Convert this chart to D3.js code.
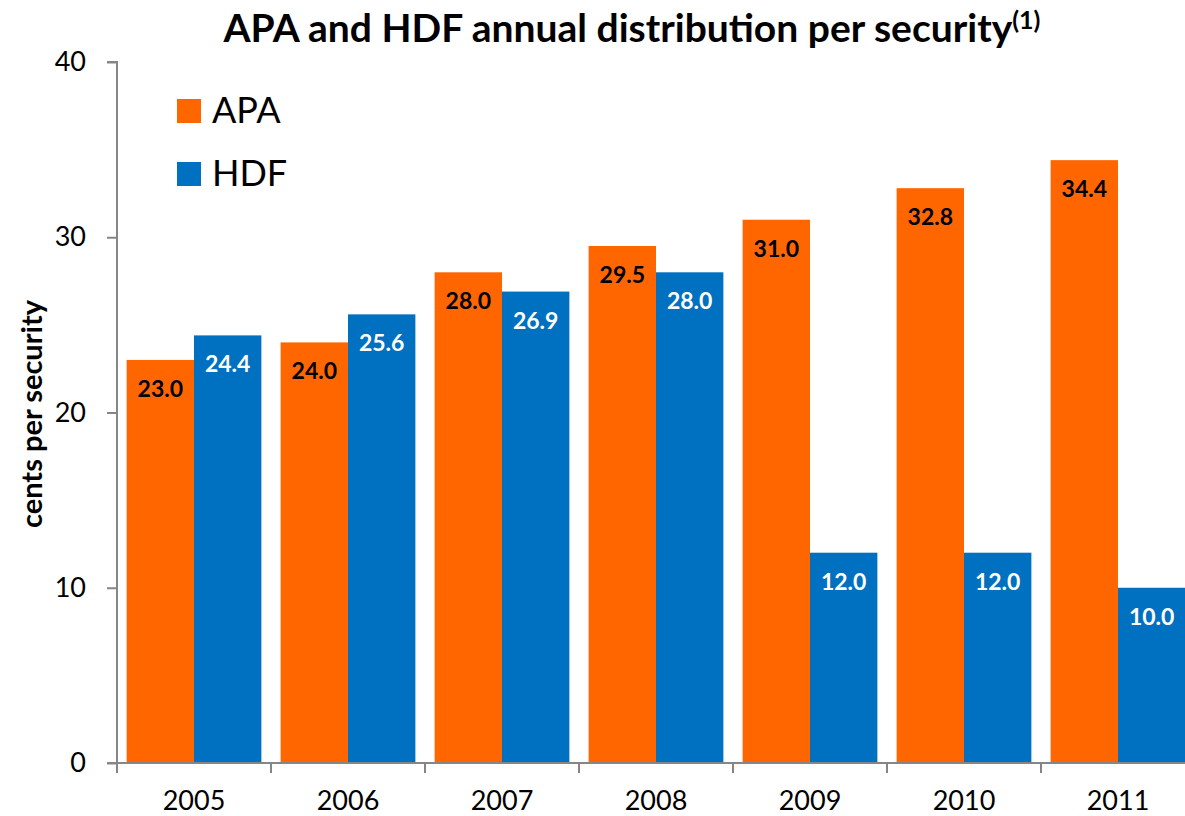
<!DOCTYPE html>
<html>
<head>
<meta charset="utf-8">
<script src="https://cdn.jsdelivr.net/npm/d3@7"></script>
<style>
  body { margin: 0; background: #fff; }
  text { font-family: Lato, "Open Sans", sans-serif; }
</style>
</head>
<body>
<div id="app"></div>
<script>
const years = ["2005", "2006", "2007", "2008", "2009", "2010", "2011"];
const series = ["APA", "HDF"];
const apa = [23.0, 24.0, 28.0, 29.5, 31.0, 32.8, 34.4];
const hdf = [24.4, 25.6, 26.9, 28.0, 12.0, 12.0, 10.0];
const yTicks = [0, 10, 20, 30, 40];

const width = 1185,
    height = 816;

const colors = {APA: "#FF6600", HDF: "#0070C0"};
const labelColors = {APA: "#000", HDF: "#fff"};

const svg = d3.select("#app")
    .append("svg")
    .attr("width", width)
    .attr("height", height);

// plot runs off the right edge like the original slide
const x = d3.scaleBand().domain(years).range([117, 117 + 7 * 154]).paddingInner(0.125).paddingOuter(0.0625);
const xs = d3.scaleBand().domain(series).range([0, x.bandwidth()]);
const y = d3.scaleLinear().domain([0, 40]).range([763, 62]);

const rows = years.map((yr, i) => ({year: yr, APA: apa[i], HDF: hdf[i]}));

// bars
const groups = svg.append("g").selectAll("g")
    .data(rows).enter()
    .append("g")
    .attr("transform", d => `translate(${x(d.year)},0)`);

groups.selectAll("rect")
    .data(d => series.map(s => ({key: s, value: d[s]})))
    .enter().append("rect")
    .attr("x", d => xs(d.key))
    .attr("y", d => y(d.value))
    .attr("width", xs.bandwidth())
    .attr("height", d => y(0) - y(d.value))
    .attr("fill", d => colors[d.key]);

groups.selectAll("text")
    .data(d => series.map(s => ({key: s, value: d[s]})))
    .enter().append("text")
    .attr("x", d => xs(d.key) + xs.bandwidth() / 2)
    .attr("y", d => y(d.value) + 37)
    .attr("text-anchor", "middle")
    .attr("font-size", 23)
    .attr("font-weight", "bold")
    .attr("fill", d => labelColors[d.key])
    .text(d => d.value.toFixed(1));

// y axis
const yAxis = svg.append("g")
    .attr("transform", "translate(117,0)")
    .call(d3.axisLeft(y).tickValues(yTicks).tickSize(10).tickPadding(21));
yAxis.select(".domain").attr("stroke", "#868686").attr("stroke-width", 2).attr("d", `M-10,${y(40)}H0V${y(0)}`);
yAxis.selectAll(".tick line").attr("stroke", "#868686").attr("stroke-width", 2);
yAxis.selectAll(".tick text").attr("font-size", 27).attr("fill", "#000")
    .style("font-family", "Lato, sans-serif");

// x axis: ticks between categories
const xAxis = svg.append("g")
    .attr("transform", `translate(0,${y(0)})`);
xAxis.append("line")
    .attr("x1", 107).attr("x2", width)
    .attr("stroke", "#868686").attr("stroke-width", 2);
xAxis.selectAll("line.tk")
    .data(years).enter()
    .append("line")
    .attr("class", "tk")
    .attr("x1", d => x(d) - x.step() * 0.0625)
    .attr("x2", d => x(d) - x.step() * 0.0625)
    .attr("y1", 0).attr("y2", 10)
    .attr("stroke", "#868686").attr("stroke-width", 2);
xAxis.selectAll("text")
    .data(years).enter()
    .append("text")
    .attr("x", d => x(d) + x.bandwidth() / 2)
    .attr("y", 47)
    .attr("text-anchor", "middle")
    .attr("font-size", 27)
    .text(d => d);

// y axis title
svg.append("text")
    .attr("transform", "translate(42,414) rotate(-90)")
    .attr("text-anchor", "middle")
    .attr("font-size", 29)
    .attr("font-weight", "bold")
    .text("cents per security");

// title
const title = svg.append("text")
    .attr("x", 632)
    .attr("y", 42)
    .attr("text-anchor", "middle")
    .attr("font-size", 39)
    .attr("font-weight", "bold");
title.append("tspan").text("APA and HDF annual distribution per security");
title.append("tspan").attr("font-size", 25).attr("dy", -13).text("(1)");

// legend
const legend = svg.append("g").selectAll("g")
    .data(series).enter()
    .append("g")
    .attr("transform", (d, i) => `translate(177,${99 + i * 63})`);
legend.append("rect")
    .attr("width", 24).attr("height", 24)
    .attr("fill", d => colors[d]);
legend.append("text")
    .attr("x", 35).attr("y", 24)
    .attr("font-size", 36)
    .text(d => d);
</script>
</body>
</html>
